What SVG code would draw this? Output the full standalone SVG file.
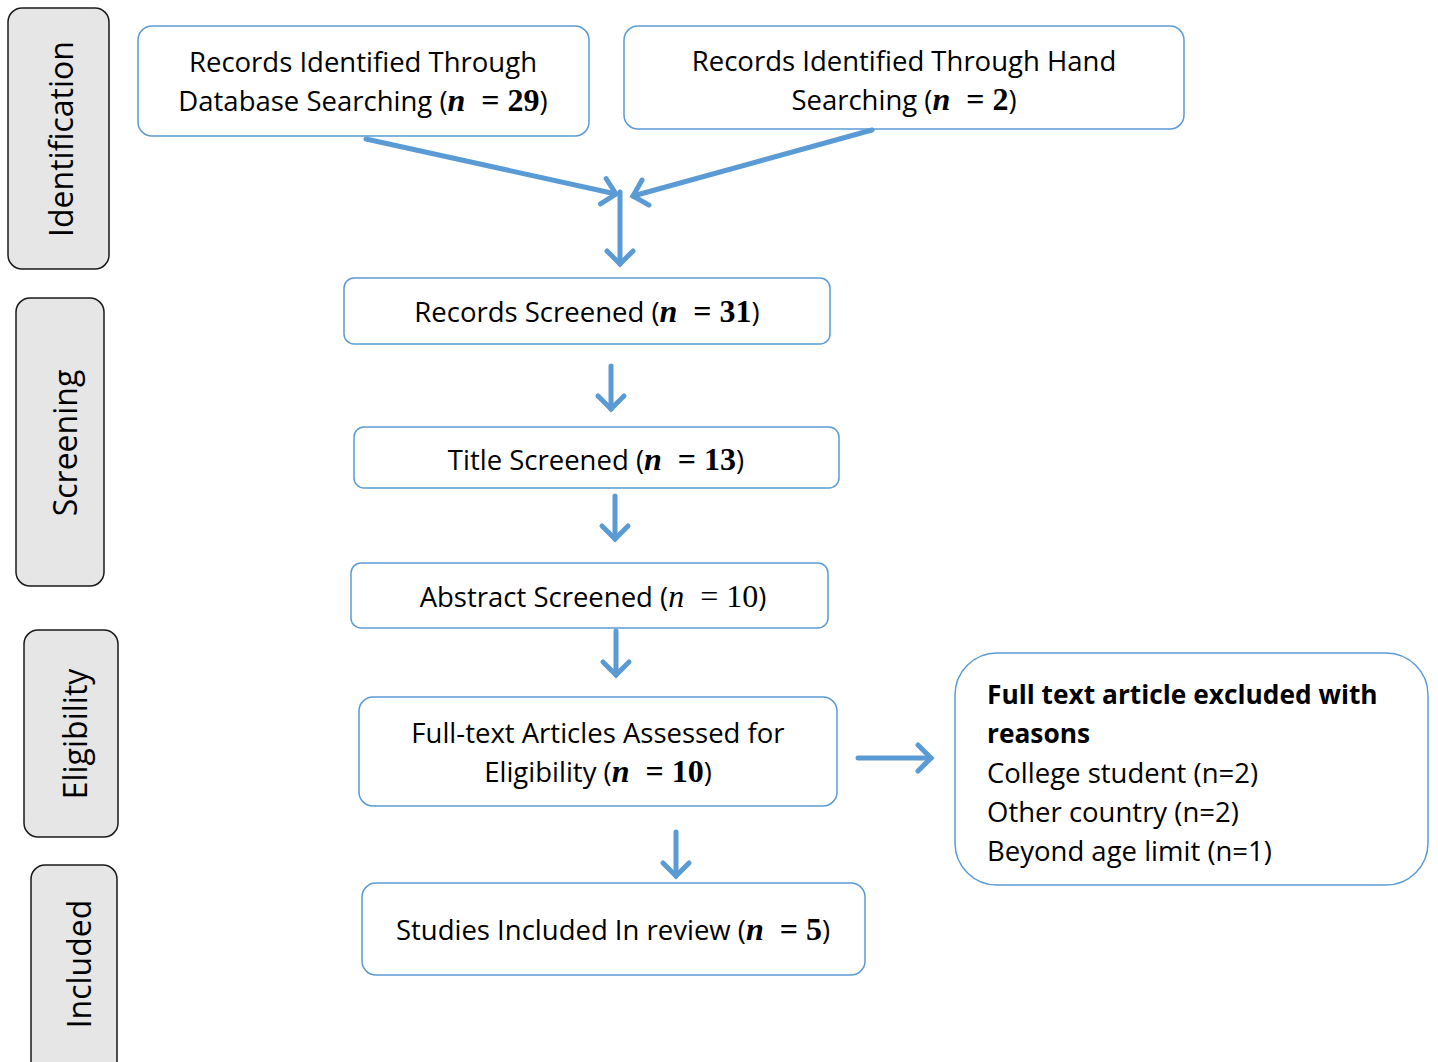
<svg xmlns="http://www.w3.org/2000/svg" width="1438" height="1062" viewBox="0 0 1438 1062">
<style>
.side{fill:#E6E6E6;stroke:#1a1a1a;stroke-width:1.5}
.box{fill:#fff;stroke:#5B9BD5;stroke-width:1.5}
.t{font-family:"Open Sans","Liberation Sans",sans-serif;font-size:27.5px;fill:#000}
.b{font-size:26.3px;font-weight:bold}
.st{font-family:"Open Sans","Liberation Sans",sans-serif;font-size:32px;fill:#000}
.m{font-family:"Liberation Serif",serif;font-weight:bold;font-size:32px}
.mi{font-family:"Liberation Serif",serif;font-weight:bold;font-style:italic;font-size:32px}
.c{stroke:#5B9BD5;stroke-width:5;fill:none;stroke-linecap:round}
</style>
<defs>
<marker id="ah" markerUnits="userSpaceOnUse" markerWidth="40" markerHeight="40" viewBox="-20 -20 40 40" refX="0" refY="0" orient="auto">
<path d="M-13,-13 L0,0 L-13,13" fill="none" stroke="#5B9BD5" stroke-width="5" stroke-linecap="round" stroke-linejoin="miter"/>
</marker>
</defs>
<g id="side-identification"><rect class="side" x="8" y="8" width="101" height="261" rx="14"/><text class="st" transform="translate(73,139) rotate(-90)" text-anchor="middle">Identification</text></g>
<g id="side-screening"><rect class="side" x="16" y="298" width="88" height="288" rx="14"/><text class="st" transform="translate(77,443) rotate(-90)" text-anchor="middle">Screening</text></g>
<g id="side-eligibility"><rect class="side" x="24" y="630" width="94" height="207" rx="14"/><text class="st" transform="translate(87,734) rotate(-90)" text-anchor="middle">Eligibility</text></g>
<g id="side-included"><rect class="side" x="31" y="865" width="86" height="215" rx="14"/><text class="st" transform="translate(91,964) rotate(-90)" text-anchor="middle">Included</text></g>

<g id="n-database"><rect class="box" x="138" y="26" width="451" height="110" rx="14"/>
<text class="t" x="363" y="72" text-anchor="middle">Records Identified Through</text>
<text class="t" x="363" y="111" text-anchor="middle">Database Searching (<tspan class="mi">n</tspan><tspan class="m" dx="16">= 29</tspan>)</text></g>
<g id="n-hand"><rect class="box" x="624" y="26" width="560" height="103" rx="14"/>
<text class="t" x="904" y="71" text-anchor="middle">Records Identified Through Hand</text>
<text class="t" x="904" y="110" text-anchor="middle">Searching (<tspan class="mi">n</tspan><tspan class="m" dx="16">= 2</tspan>)</text></g>
<g id="n-records"><rect class="box" x="344" y="278" width="486" height="66" rx="10"/>
<text class="t" x="587" y="322" text-anchor="middle">Records Screened (<tspan class="mi">n</tspan><tspan class="m" dx="16">= 31</tspan>)</text></g>
<g id="n-title"><rect class="box" x="354" y="427" width="485" height="61" rx="10"/>
<text class="t" x="596" y="470" text-anchor="middle">Title Screened (<tspan class="mi">n</tspan><tspan class="m" dx="16">= 13</tspan>)</text></g>
<g id="n-abstract"><rect class="box" x="351" y="563" width="477" height="65" rx="10"/>
<text class="t" x="593" y="607" text-anchor="middle">Abstract Screened (<tspan class="m" style="font-weight:normal;font-style:italic">n</tspan><tspan class="m" style="font-weight:normal" dx="16">= 10</tspan>)</text></g>
<g id="n-fulltext"><rect class="box" x="359" y="697" width="478" height="109" rx="14"/>
<text class="t" x="598" y="743" text-anchor="middle">Full-text Articles Assessed for</text>
<text class="t" x="598" y="782" text-anchor="middle">Eligibility (<tspan class="mi">n</tspan><tspan class="m" dx="16">= 10</tspan>)</text></g>
<g id="n-included"><rect class="box" x="362" y="883" width="503" height="92" rx="14"/>
<text class="t" x="613" y="940" text-anchor="middle">Studies Included In review (<tspan class="mi">n</tspan><tspan class="m" dx="16">= 5</tspan>)</text></g>
<g id="n-excluded"><rect class="box" x="955" y="653" width="473" height="232" rx="42"/>
<text class="t b" x="987" y="704">Full text article excluded with</text>
<text class="t b" x="987" y="743">reasons</text>
<text class="t" x="987" y="783">College student (n=2)</text>
<text class="t" x="987" y="822">Other country (n=2)</text>
<text class="t" x="987" y="861">Beyond age limit (n=1)</text></g>

<g id="connectors">
<path class="c" d="M366,139 L616,194" marker-end="url(#ah)"/>
<path class="c" d="M872,130 L633,196" marker-end="url(#ah)"/>
<path class="c" d="M620,192 L620,264" marker-end="url(#ah)"/>
<path class="c" d="M611,366 L611,409" marker-end="url(#ah)"/>
<path class="c" d="M615,496 L615,539" marker-end="url(#ah)"/>
<path class="c" d="M616,631 L616,675" marker-end="url(#ah)"/>
<path class="c" d="M858,758 L931,758" marker-end="url(#ah)"/>
<path class="c" d="M676,832 L676,876" marker-end="url(#ah)"/>
</g>
</svg>
